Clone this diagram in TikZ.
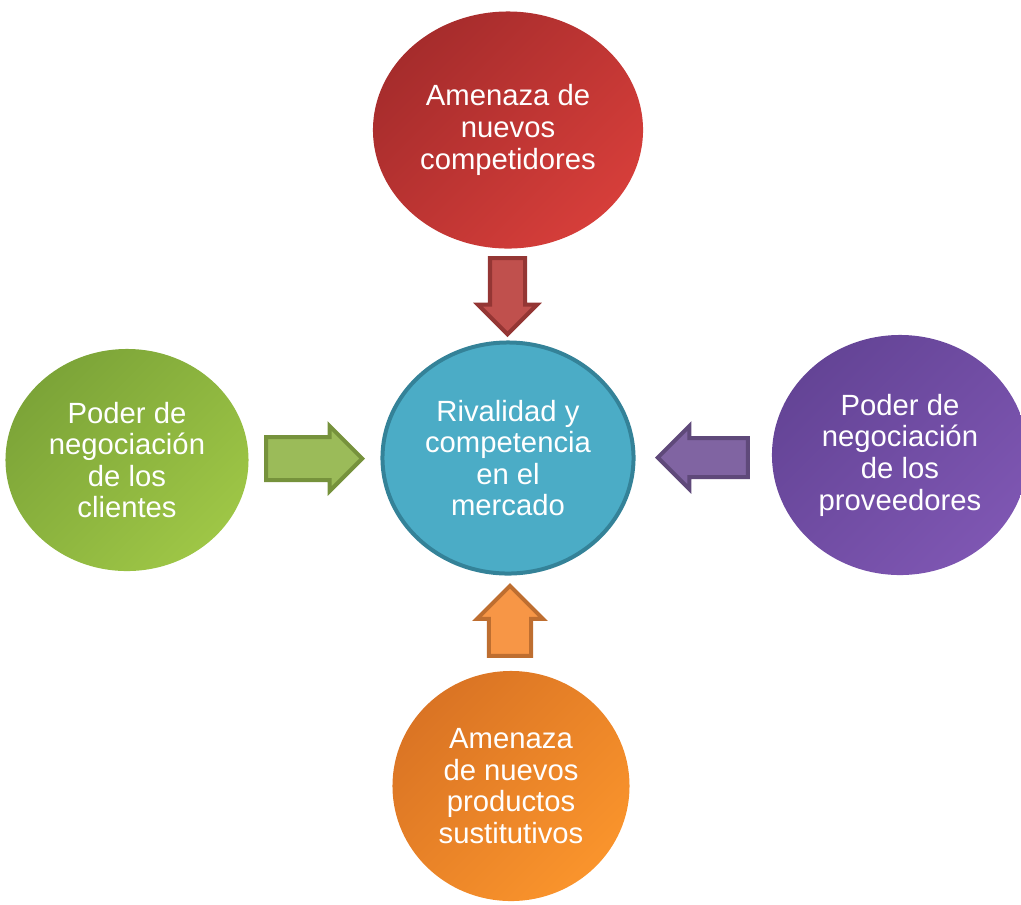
\documentclass[tikz,border=0pt]{standalone}
\usepackage{fontspec}
\setmainfont{Liberation Sans}
\usepackage{xcolor}
% Colores de los círculos
\definecolor{rojoosc}{RGB}{166, 44, 44}
\definecolor{rojoclaro}{RGB}{214, 62, 58}
\definecolor{verdeosc}{RGB}{124, 164, 56}
\definecolor{verdeclaro}{RGB}{158, 198, 70}
\definecolor{moradoosc}{RGB}{100, 68, 150}
\definecolor{moradoclaro}{RGB}{126, 86, 178}
\definecolor{naranjaosc}{RGB}{218, 116, 36}
\definecolor{naranjaclaro}{RGB}{250, 148, 44}
\definecolor{azul}{RGB}{75, 172, 198}
\definecolor{azulosc}{RGB}{52, 130, 152}
% Colores de las flechas
\definecolor{rojoflecha}{RGB}{192, 80, 77}
\definecolor{rojoborde}{RGB}{148, 54, 52}
\definecolor{verdeflecha}{RGB}{155, 187, 89}
\definecolor{verdeborde}{RGB}{118, 146, 60}
\definecolor{moradoflecha}{RGB}{128, 100, 162}
\definecolor{moradoborde}{RGB}{95, 73, 122}
\definecolor{naranjaflecha}{RGB}{247, 150, 70}
\definecolor{naranjaborde}{RGB}{190, 110, 48}
\usepackage{tikz}
\usetikzlibrary{shapes, arrows, positioning, arrows.meta}

\begin{document}
\begin{tikzpicture}[x=0.025cm, y=-0.025cm,
        circulo/.style={ellipse, inner sep=0pt, align=center, text=white,
            font=\fontsize{20.8}{22.5}\selectfont},
        fuerza/.style={circulo, shading angle=45},
        flecha/.style={single arrow, single arrow tip angle=90, inner xsep=0pt,
            line width=0.1cm, anchor=tip}]
        % Marco de la figura
        \useasboundingbox (0,0) rectangle (1021,904);
        \clip (0,0) rectangle (1021,904);
        % Círculo central
        \node[circulo, draw=azulosc, fill=azul, line width=0.1cm, minimum width=6.275cm, minimum height=5.775cm] (rivalidad) at (508,458) {Rivalidad y\\competencia\\en el\\mercado};
        % Las cuatro fuerzas alrededor
        \node[fuerza, top color=rojoosc, bottom color=rojoclaro, shading angle=45, minimum width=6.75cm, minimum height=5.925cm] (competidores) at (508,130) {Amenaza de\\nuevos\\competidores};
        \node[fuerza, top color=verdeosc, bottom color=verdeclaro, shading angle=45, minimum width=6.075cm, minimum height=5.55cm] (clientes) at (127,460) {Poder de\\negociación\\de los\\clientes};
        \node[fuerza, top color=moradoosc, bottom color=moradoclaro, shading angle=45, minimum width=6.4cm, minimum height=6cm] (proveedores) at (900,455) {Poder de\\negociación\\de los\\proveedores};
        \node[fuerza, top color=naranjaosc, bottom color=naranjaclaro, shading angle=45, minimum width=5.925cm, minimum height=5.75cm] (sustitutos) at (511,786) {Amenaza\\de nuevos\\productos\\sustitutivos};
        % Flechas hacia el centro
        \node[flecha, draw=rojoborde, fill=rojoflecha, rotate=-90, minimum height=1.9cm, inner ysep=0.3875cm, single arrow head extend=0.3cm] (f1) at (507.5,337) {};
        \node[flecha, draw=verdeborde, fill=verdeflecha, minimum height=2.4cm, inner ysep=0.4875cm, single arrow head extend=0.275cm] (f2) at (365,458.5) {};
        \node[flecha, draw=moradoborde, fill=moradoflecha, rotate=180, minimum height=2.25cm, inner ysep=0.4375cm, single arrow head extend=0.3cm] (f3) at (655,457.5) {};
        \node[flecha, draw=naranjaborde, fill=naranjaflecha, rotate=90, minimum height=1.75cm, inner ysep=0.475cm, single arrow head extend=0.3cm] (f4) at (510,583) {};
    \end{tikzpicture}
\end{document}
